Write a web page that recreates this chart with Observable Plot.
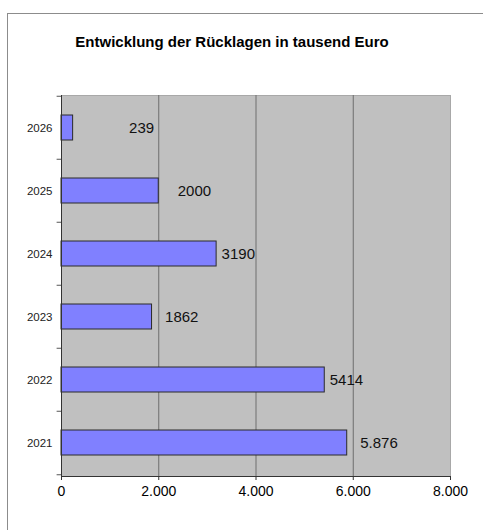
<!DOCTYPE html>
<html><head><meta charset="utf-8">
<script src="https://cdn.jsdelivr.net/npm/d3@7"></script>
<script src="https://cdn.jsdelivr.net/npm/@observablehq/plot@0.6"></script>
<style>
body{margin:0;background:#fff;}
#wrap{position:relative;width:483px;height:530px;overflow:hidden;}
#wrap svg{position:absolute;left:0;top:0;}
#frame{position:absolute;left:7px;top:13px;right:0;bottom:-2px;border-left:1px solid #8c8c8c;border-top:1px solid #8c8c8c;pointer-events:none;}
</style></head><body><div id="wrap"></div>
<script>
const title = "Entwicklung der Rücklagen in tausend Euro";
const years = ["2026", "2025", "2024", "2023", "2022", "2021"];
const values = [239, 2000, 3190, 1862, 5414, 5876];
const valueLabels = ["239", "2000", "3190", "1862", "5414", "5.876"];
const xTicks = [0, 2000, 4000, 6000, 8000];
const gridValues = [2000, 4000, 6000];

// label offsets (px) from bar end, as placed in the original
const labelDx = [56, 19, 5, 13, 5, 13];

const data = years.map((y, i) => ({year: y, value: values[i], label: valueLabels[i], dx: labelDx[i]}));
const de = d3.formatLocale({decimal: ",", thousands: ".", grouping: [3], currency: ["", "€"]});
const fmt = de.format(",");
const halfStep = 31.75;

const chart = Plot.plot({
  width: 483,
  height: 530,
  marginLeft: 61,
  marginRight: 33,
  marginTop: 95,
  marginBottom: 54,
  style: {fontFamily: 'Arial, "Liberation Sans", sans-serif', background: "transparent", color: "#000"},
  x: {domain: [0, 8000], axis: null},
  y: {domain: years, paddingInner: 0.6, paddingOuter: 0.3, axis: null},
  marks: [
    Plot.frame({fill: "#c0c0c0", stroke: "#a8a8a8"}),
    Plot.ruleX(gridValues, {stroke: "#6e6e6e", strokeWidth: 1}),
    Plot.barX(data, {x: "value", y: "year", fill: "#8080ff", stroke: "#2a2a2a", strokeWidth: 1}),
    Plot.ruleX([0], {stroke: "#333"}),
    Plot.frame({anchor: "bottom", stroke: "#333"}),
    Plot.ruleY(years, {y: d => d, x1: -90, x2: 0, dy: -halfStep, stroke: "#555"}),
    Plot.ruleY([years[years.length - 1]], {y: d => d, x1: -90, x2: 0, dy: halfStep, stroke: "#555"}),
    Plot.axisX({ticks: xTicks, tickFormat: fmt, tickSize: 4, tickPadding: 6, fontSize: 14, label: null, stroke: "#333"}),
    Plot.axisY({tickSize: 0, tickPadding: 9, fontSize: 11.5, label: null, fill: "#222"}),
    ...data.map(d => Plot.text([d], {x: "value", y: "year", text: "label", textAnchor: "start", dx: d.dx, fontSize: 15, fill: "#111"})),
    Plot.text([title], {frameAnchor: "top", dx: -24, dy: -49, lineAnchor: "bottom", fontSize: 15, fontWeight: "bold", fill: "#000"})
  ]
});
const wrap = document.getElementById("wrap");
wrap.appendChild(chart);
const fr = document.createElement("div");
fr.id = "frame";
wrap.appendChild(fr);
</script>
</body></html>
